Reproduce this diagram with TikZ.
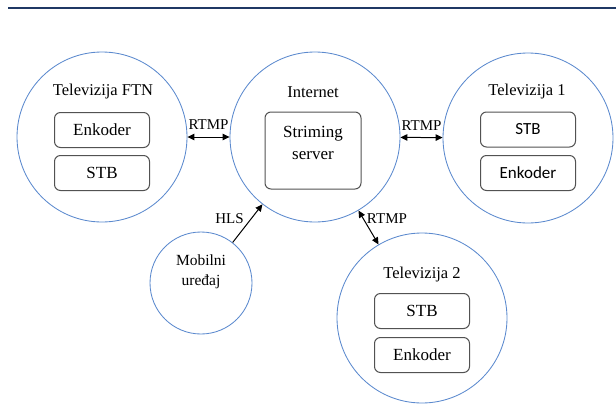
\documentclass[tikz,border=0pt]{standalone}
\usepackage{fontspec}
\setmainfont{Liberation Serif}
\newfontfamily\calfont{Carlito}
\usetikzlibrary{arrows.meta}

\definecolor{krugplava}{RGB}{92,138,206}
\definecolor{linijaplava}{RGB}{31,56,100}

\tikzset{
  krug/.style={circle, draw=krugplava, line width=0.85pt, minimum size=#1, inner sep=0pt},
  kutija/.style={draw=black!68, line width=1pt, rounded corners=6pt, minimum width=95pt, minimum height=35pt, inner sep=0pt},
  strelica/.style={line width=1pt, {Triangle[length=7pt,width=6.5pt]}-{Triangle[length=7pt,width=6.5pt]}},
  oznaka/.style={font=\fontsize{15}{18}\selectfont, inner sep=3pt}
}

\begin{document}
\begin{tikzpicture}[x=1pt, y=-1pt]
 \useasboundingbox (0,0) rectangle (616,407);
 \draw[linijaplava, line width=1.5pt] (8,8) -- (616,8);

 % circles
 \foreach \name/\cx/\cy/\d in {ftn/102/137/170, inet/315/137/170, tv1/528/138/170, tv2/422/318/170, mob/201/283/102}
   \node[krug=\d pt] (\name) at (\cx,\cy) {};

 % titles
 \begin{scope}[every node/.style={font=\fontsize{16.5}{19}\selectfont}]
   \node (ftnnaslov) at (103,92) {Televizija FTN};
   \node (inetnaslov) at (313,92) {Internet};
   \node (tv1naslov) at (527,92) {Televizija 1};
   \node (tv2naslov) at (422,275) {Televizija 2};
 \end{scope}
 \node[align=center, font=\fontsize{15.5}{20}\selectfont] (mobnaslov) at (201,272) {Mobilni\\uređaj};

 % boxes
 \foreach \name/\cx/\cy/\tekst in {ftnenc/102/130/Enkoder, ftnstb/102/173/STB, tv2stb/422/311/STB, tv2enc/422/355/Enkoder}
   \node[kutija, font=\fontsize{17}{20}\selectfont] (\name) at (\cx,\cy) {\tekst};
 \foreach \name/\cx/\cy/\tekst in {tv1stb/528/129.5/STB, tv1enc/528/173/Enkoder}
   \node[kutija, font=\calfont\fontsize{17}{20}\selectfont] (\name) at (\cx,\cy) {\tekst};

 \node[kutija, minimum width=96pt, minimum height=77pt] (server) at (313,150.5) {};
 \node[align=center, font=\fontsize{17}{22}\selectfont] (servertekst) at (313,143) {Striming\\server};

 % lines
 \draw[strelica] (ftn) -- (inet) node[oznaka, midway, above=4pt] (rtmpa) {RTMP};
 \draw[strelica] (inet) -- (tv1) node[oznaka, midway, above=4pt] (rtmpb) {RTMP};
 \draw[line width=1pt, -{Triangle[length=7pt,width=6.5pt]}] (mob) -- (inet) node[oznaka, pos=0.62, left=4pt] (hls) {HLS};
 \draw[strelica] (inet) -- (tv2) node[oznaka, pos=0.25, right=0pt] (rtmpc) {RTMP};

\end{tikzpicture}
\end{document}
